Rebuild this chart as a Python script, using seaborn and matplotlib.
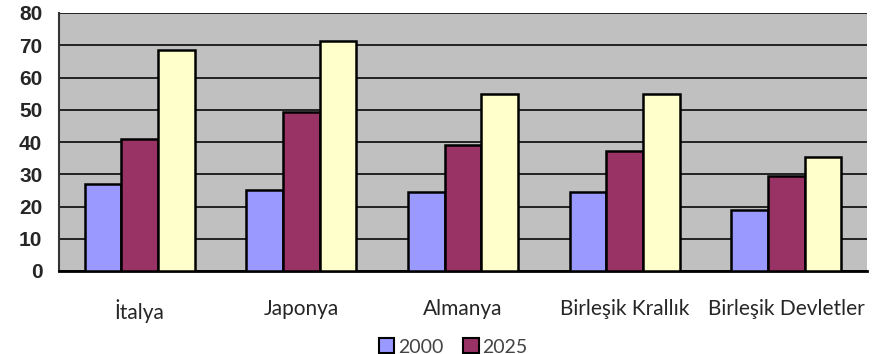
import pandas as pd
import seaborn as sns
import matplotlib.pyplot as plt
from matplotlib.patches import Patch

# values
countries = ["İtalya", "Japonya", "Almanya", "Birleşik Krallık", "Birleşik Devletler"]
years = ["2000", "2025", "2050"]
v2000 = [27, 25.2, 24.6, 24.6, 18.8]
v2025 = [40.8, 49.4, 39.2, 37.3, 29.6]
v2050 = [68.4, 71.3, 54.8, 54.8, 35.3]
colors = ["#9999FF", "#993366", "#FFFFCC"]

df = pd.DataFrame({
    "country": countries * 3,
    "year": [y for y in years for _ in countries],
    "value": v2000 + v2025 + v2050,
})

sns.set_style("white")
plt.rcParams["font.family"] = ["Liberation Sans", "DejaVu Sans"]

fig = plt.figure(figsize=(8.8, 3.54), dpi=100)
ax = fig.add_axes([59 / 880, 1 - 271 / 354, (867 - 59) / 880, (271 - 13) / 354])
ax.set_facecolor("#C0C0C0")

sns.barplot(
    data=df, x="country", y="value", hue="year", order=countries,
    palette=colors, saturation=1, width=0.68, gap=0, edgecolor="black",
    linewidth=1.8, legend=False, ax=ax, zorder=3,
)

ax.set_xlim(-0.5, 4.44)
ax.set_ylim(0, 80)
ax.set_yticks(range(0, 81, 10))
ax.yaxis.grid(True, color="#222222", linewidth=1.4, zorder=1)
ax.tick_params(axis="y", length=7, width=1.2, color="#333333", labelsize=15, pad=5)
for lbl in ax.get_yticklabels():
    lbl.set_fontweight("bold")

# category labels at centers, tick marks at boundaries
ax.set_xticks([i - 0.5 for i in range(6)])
ax.set_xticklabels([])
ax.tick_params(axis="x", which="major", length=5, width=1.5, color="#333333")
ax.set_xticks(range(len(countries)), minor=True)
ax.set_xticklabels(countries, minor=True, fontsize=15, family=["Lato", "DejaVu Sans"])
ax.tick_params(axis="x", which="minor", length=0, pad=20)

ax.set_xlabel("")
ax.set_ylabel("")
for side in ["top", "right"]:
    ax.spines[side].set_visible(False)
ax.spines["left"].set_color("#333333")
ax.spines["left"].set_linewidth(1.5)
ax.spines["bottom"].set_color("black")
ax.spines["bottom"].set_linewidth(2)

handles = [Patch(facecolor=c, edgecolor="black", linewidth=1.5) for c in colors[:2]]
fig.legend(handles, years[:2], loc="center", bbox_to_anchor=(0.515, 0.02), ncol=2,
           frameon=False, handlelength=0.8, handleheight=0.8, handletextpad=0.2,
           columnspacing=1.0, prop={"family": ["Lato", "DejaVu Sans"], "size": 14},
           labelcolor="#444444")

fig.savefig("out.png", dpi=100)
